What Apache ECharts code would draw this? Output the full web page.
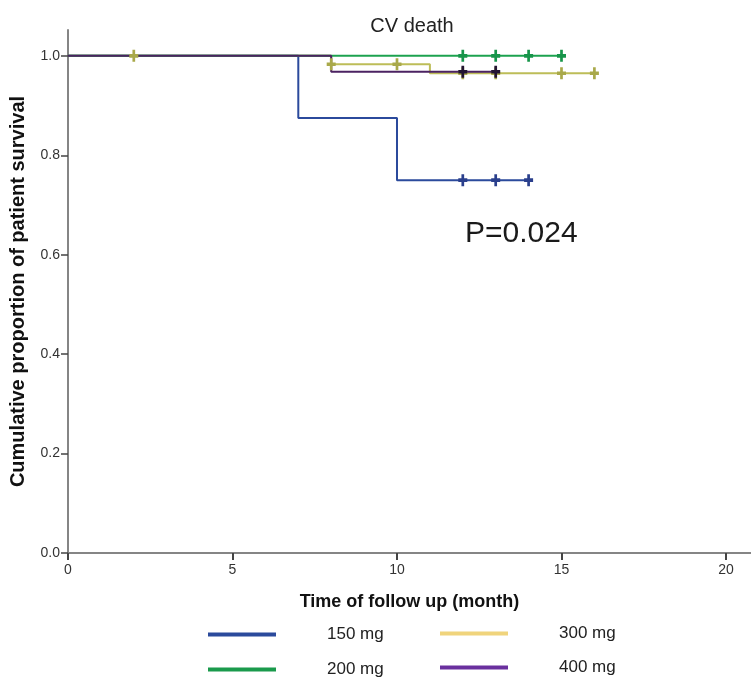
<!DOCTYPE html>
<html>
<head>
<meta charset="utf-8">
<title>CV death</title>
<script src="https://cdn.jsdelivr.net/npm/echarts@6/dist/echarts.min.js"></script>
<style>
  html, body { margin: 0; padding: 0; background: #fff; }
  #chart { width: 751px; height: 677px; }
</style>
</head>
<body>
<div id="chart"></div>
<script>
// Kaplan-Meier steps per dose group: [month, cumulative survival]
const groups = ['150 mg', '200 mg', '300 mg', '400 mg'];
const km150 = [[0, 1], [7, 0.875], [10, 0.75], [14, 0.75]];
const km200 = [[0, 1], [15, 1]];
const km300 = [[0, 1], [8, 0.983], [11, 0.965], [16, 0.965]];
const km400 = [[0, 1], [8, 0.968], [13, 0.968]];

// Censored observations (months)
const cens150 = [12, 13, 14];
const cens200 = [12, 13, 14, 15];
const cens300 = [2, 8, 10, 12, 13, 15, 16];
const cens400 = [12, 13];

const xTicks = [0, 5, 10, 15, 20];
const yTicks = [0, 0.2, 0.4, 0.6, 0.8, 1.0];
const pValueText = 'P=0.024';

const lineColors = ['#2b4a9c', '#1ca24f', '#bdbd58', '#4b2262'];
const censorColors = ['#2a3f8c', '#17954a', '#a9a94a', '#231432'];
const legendColors = ['#2b4a9c', '#1a9a4c', '#f0d47c', '#6a309e'];

const sans = "'Liberation Sans', Arial, sans-serif";

// Survival value at time t
function survivalAt(steps, t) {
  let s = steps[0][1];
  for (const [x, y] of steps) { if (x <= t) s = y; }
  return s;
}

const kmTables = [km150, km200, km300, km400];
const censTables = [cens150, cens200, cens300, cens400];
const plus = 'path://M3.5,0H6.5V3.5H10V6.5H6.5V10H3.5V6.5H0V3.5H3.5Z';

// draw order: 150, 300, 200, 400 (purple on top of the shared 1.0 segment)
const order = [0, 2, 1, 3];
const series = [];
order.forEach(function (i) {
  series.push({
    name: groups[i],
    type: 'line',
    step: 'end',
    symbol: 'none',
    data: kmTables[i],
    lineStyle: { color: lineColors[i], width: 2 },
    itemStyle: { color: lineColors[i] },
    z: 2 + order.indexOf(i)
  });
});
order.forEach(function (i) {
  series.push({
    name: groups[i] + ' censored',
    type: 'scatter',
    symbol: plus,
    symbolSize: [9, 12],
    data: censTables[i].map(function (t) { return [t, survivalAt(kmTables[i], t)]; }),
    itemStyle: { color: censorColors[i], opacity: 1 },
    z: 10 + order.indexOf(i)
  });
});

function legendAt(idx, left, top) {
  return {
    left: left,
    top: top,
    orient: 'horizontal',
    selectedMode: false,
    icon: 'rect',
    itemWidth: 68,
    itemHeight: 4,
    data: [{ name: groups[idx], itemStyle: { color: legendColors[idx] } }],
    textStyle: {
      fontFamily: sans,
      fontSize: 17,
      color: '#222',
      padding: [0, 0, 0, 46]
    }
  };
}

const chart = echarts.init(document.getElementById('chart'), null, { renderer: 'canvas' });
chart.setOption({
  animation: false,
  backgroundColor: '#fff',
  title: {
    text: 'CV death',
    left: 407,
    textAlign: 'center',
    top: 11,
    textStyle: { fontFamily: sans, fontSize: 20, fontWeight: 'normal', color: '#222' }
  },
  grid: { left: 68, right: 0, top: 30, bottom: 124 },
  xAxis: {
    type: 'value',
    min: 0,
    max: 20.76,
    name: 'Time of follow up (month)',
    nameLocation: 'middle',
    nameGap: 40,
    nameTextStyle: { fontFamily: sans, fontWeight: 'bold', fontSize: 18, color: '#111' },
    splitLine: { show: false },
    axisLine: { lineStyle: { color: '#858585', width: 2 } },
    axisTick: { customValues: xTicks, length: 7, lineStyle: { color: '#444', width: 2 } },
    axisLabel: {
      customValues: xTicks,
      margin: 10,
      fontFamily: sans,
      fontSize: 14,
      color: '#333'
    }
  },
  yAxis: {
    type: 'value',
    min: 0,
    max: 1.052,
    name: 'Cumulative proportion of patient survival',
    nameLocation: 'middle',
    nameGap: 40,
    nameTextStyle: { fontFamily: sans, fontWeight: 'bold', fontSize: 20, color: '#111' },
    splitLine: { show: false },
    axisLine: { show: true, lineStyle: { color: '#858585', width: 2 } },
    axisTick: { show: true, customValues: yTicks, length: 7, lineStyle: { color: '#444', width: 1.5 } },
    axisLabel: {
      customValues: yTicks,
      margin: 8,
      fontFamily: sans,
      fontSize: 14,
      color: '#333',
      formatter: function (v) { return v.toFixed(1); }
    }
  },
  legend: [
    legendAt(0, 203, 621),
    legendAt(2, 435, 620),
    legendAt(1, 203, 656),
    legendAt(3, 435, 654)
  ],
  graphic: [{
    type: 'text',
    left: 465,
    top: 219,
    style: { text: pValueText, fontFamily: sans, fontSize: 30, fill: '#1a1a1a' }
  }],
  series: series
});
</script>
</body>
</html>
